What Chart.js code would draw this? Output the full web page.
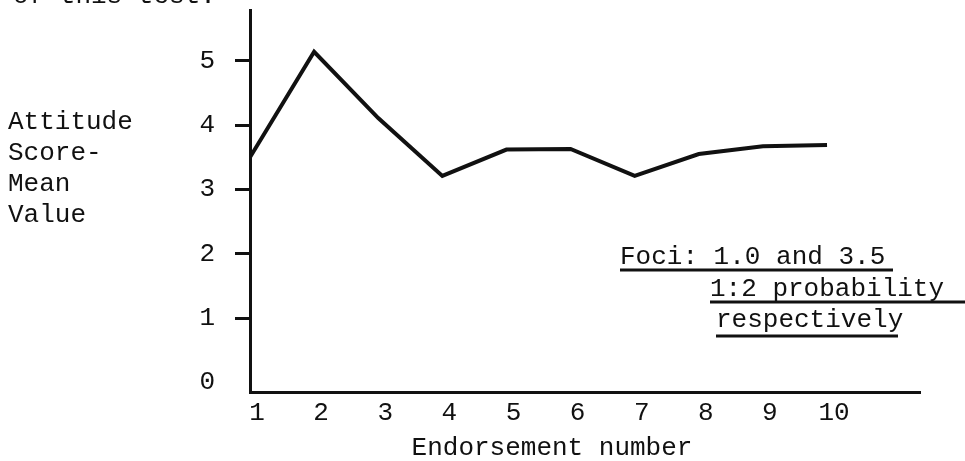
<!DOCTYPE html>
<html>
<head>
<meta charset="utf-8">
<script src="https://cdn.jsdelivr.net/npm/chart.js@4.4.1/dist/chart.umd.min.js"></script>
<style>
  html, body { margin: 0; padding: 0; background: #fff; }
  #wrap { width: 965px; height: 461px; }
</style>
</head>
<body>
<div id="wrap"><canvas id="grafico" width="965" height="461"></canvas></div>
<script>
// Endorsement number vs. attitude score (mean value)
const endossos = [1, 2, 3, 4, 5, 6, 7, 8, 9, 10];
const mediaAtitude = [3.5, 5.14, 4.11, 3.21, 3.62, 3.63, 3.21, 3.55, 3.67, 3.69];
const ticksY = [0, 1, 2, 3, 4, 5];
const tituloY = ['Attitude', 'Score-', 'Mean', 'Value'];
const tituloX = 'Endorsement number';
const notaFocos = ['Foci: 1.0 and 3.5', '1:2 probability', 'respectively'];

const FONTE = '"Liberation Mono", "Courier New", monospace';
const TINTA = '#111';

// textos soltos: rótulo do eixo y, título do eixo x, nota sublinhada
const textosExtras = {
    id: 'textosExtras',
    afterDraw(chart) {
        const ctx = chart.ctx;
        ctx.save();
        ctx.fillStyle = TINTA;
        ctx.strokeStyle = TINTA;
        ctx.font = '26px ' + FONTE;
        ctx.textBaseline = 'alphabetic';
        ctx.textAlign = 'left';

        // resto da linha de texto acima do gráfico
        ctx.fillText('of this test.', 13, 3);

        const linhasY = [129, 160, 191, 222];
        tituloY.forEach((t, i) => ctx.fillText(t, 8, linhasY[i]));

        ctx.textAlign = 'center';
        ctx.fillText(tituloX, 552, 455);

        // nota com sublinhados
        ctx.textAlign = 'left';
        ctx.lineWidth = 3;
        const nota = [
            { x: 620, y: 264, fim: 893, sub: 270 },
            { x: 710, y: 296, fim: 965, sub: 302 },
            { x: 716, y: 327, fim: 898, sub: 336 }
        ];
        notaFocos.forEach((t, i) => {
            const n = nota[i];
            ctx.fillText(t, n.x, n.y);
            ctx.beginPath();
            ctx.moveTo(n.x, n.sub);
            ctx.lineTo(n.fim, n.sub);
            ctx.stroke();
        });
        ctx.restore();
    }
};

const ctxGrafico = document.getElementById('grafico').getContext('2d');
const grafico = new Chart(ctxGrafico, {
    type: 'line',
    data: {
        datasets: [{
            data: endossos.map((e, i) => ({ x: e, y: mediaAtitude[i] })),
            borderColor: TINTA,
            borderWidth: 4,
            pointRadius: 0,
            tension: 0,
            fill: false
        }]
    },
    options: {
        responsive: false,
        animation: false,
        layout: { padding: { top: 10, right: 45, left: 0, bottom: 0 } },
        plugins: {
            legend: { display: false },
            tooltip: { enabled: false }
        },
        scales: {
            x: {
                type: 'linear',
                min: 1,
                max: 11.45,
                afterBuildTicks: (s) => { s.ticks = endossos.map(v => ({ value: v })); },
                afterFit: (s) => {
                    s.height = 69;
                    s.paddingLeft = 0;
                    s.paddingRight = 0;
                },
                grid: { drawOnChartArea: false, drawTicks: false },
                border: { display: true, color: TINTA, width: 3 },
                ticks: {
                    color: TINTA,
                    font: { family: FONTE, size: 26 },
                    padding: 6,
                    labelOffset: 7,
                    maxRotation: 0,
                    autoSkip: false
                }
            },
            y: {
                min: -0.15,
                max: 5.79,
                afterBuildTicks: (s) => { s.ticks = ticksY.map(v => ({ value: v })); },
                afterFit: (s) => {
                    s.width = 250;
                    s.paddingTop = 0;
                    s.paddingBottom = 0;
                },
                grid: {
                    drawOnChartArea: false,
                    drawTicks: true,
                    tickLength: 15,
                    tickWidth: 3,
                    tickColor: (c) => (c.tick && c.tick.value === 0 ? 'rgba(0,0,0,0)' : TINTA)
                },
                border: { display: true, color: TINTA, width: 3 },
                ticks: {
                    color: TINTA,
                    font: { family: FONTE, size: 26 },
                    padding: 20
                }
            }
        }
    },
    plugins: [textosExtras]
});
</script>
</body>
</html>
